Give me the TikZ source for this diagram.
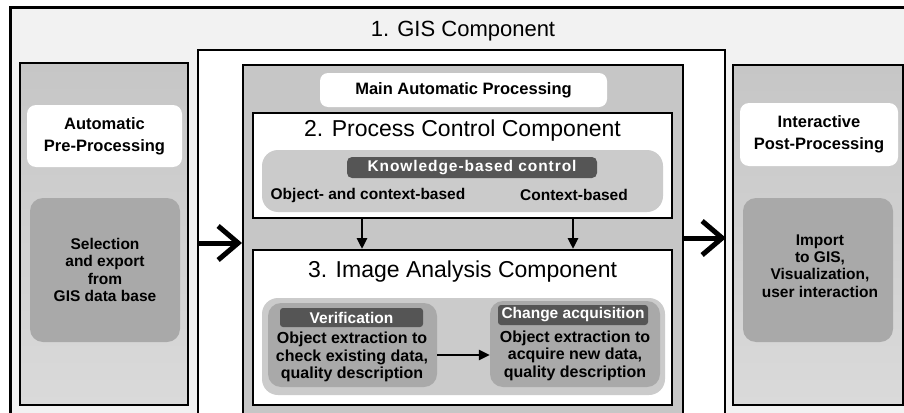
\documentclass[tikz,border=0pt]{standalone}
\usepackage{fontspec}
\setmainfont{Liberation Sans}
\usetikzlibrary{arrows.meta}
\definecolor{framegray}{HTML}{F2F2F2}
\definecolor{panelgray}{HTML}{C6C6C6}
\definecolor{panellow}{HTML}{DADADA}
\definecolor{boxgray}{HTML}{A9A9A9}
\definecolor{bandgray}{HTML}{CBCBCB}
\definecolor{taggray}{HTML}{555555}
\tikzset{
  frame/.style = {draw, line width=3pt, fill=framegray, rectangle},
  panel/.style = {draw, line width=2pt, rectangle, top color=panelgray, bottom color=panellow},
  compbox/.style = {draw, line width=2pt, fill=white, rectangle},
  whitelbl/.style = {fill=white, rounded corners=9pt, align=center, font=\fontsize{16.5}{22}\selectfont\bfseries},
  darkbox/.style = {fill=boxgray, rounded corners=13pt, align=center, font=\fontsize{15.5}{17.6}\selectfont\bfseries},
  band/.style = {fill=bandgray, rounded corners=16pt},
  tag/.style = {fill=taggray, rounded corners=3pt, text=white, font=\fontsize{15.5}{17}\selectfont\bfseries},
  title/.style = {font=\fontsize{23}{26}\selectfont},
  plain/.style = {font=\fontsize{15.5}{17}\selectfont\bfseries},
  bigarrow/.style = {line width=5pt, -{Straight Barb[length=20pt,width=34pt]}},
  arr/.style = {line width=2.8pt, -{Triangle[length=11pt,width=10pt]}}
}
\begin{document}
\begin{tikzpicture}[x=1pt, y=-1pt, inner sep=0pt]
  \useasboundingbox (0,0) rectangle (904,412);
  \clip (0,0) rectangle (904,412);
  % outer frame and GIS component
  \node[frame, minimum width=910pt, minimum height=417pt] (outer) at (465,216.5) {};
  \node[compbox, minimum width=527pt, minimum height=390pt] (gis) at (461.5,245) {};
  \node[title, font=\fontsize{22}{26}\selectfont] (gistitle) at (463,31) {1. GIS Component};
  % pre-processing
  \node[panel, minimum width=168pt, minimum height=342pt] (pre) at (104,234) {};
  \node[whitelbl, minimum width=155pt, minimum height=62pt] (pretitle) at (104.5,136) {Automatic\\Pre-Processing};
  \node[darkbox, minimum width=150pt, minimum height=144pt] (predo) at (105,270) {Selection\\and export\\from\\GIS data base};
  % post-processing
  \node[panel, minimum width=170pt, minimum height=340pt] (post) at (818,235) {};
  \node[whitelbl, minimum width=158pt, minimum height=63pt] (posttitle) at (819,134.5) {Interactive\\Post-Processing};
  \node[darkbox, minimum width=150pt, minimum height=144pt] (postdo) at (818,270) {};
  \node[align=center, font=\fontsize{15.5}{17.2}\selectfont\bfseries] (posttext) at (820,266) {Import\\to GIS,\\Visualization,\\user interaction};
  % main automatic processing
  \node[panel, top color=panelgray, bottom color=panelgray, minimum width=440pt, minimum height=375pt] (main) at (463,252.5) {};
  \node[whitelbl, rounded corners=8pt, minimum width=287pt, minimum height=34pt] (mainlbl) at (463.5,90) {Main Automatic Processing};
  % 2. process control
  \node[compbox, minimum width=419pt, minimum height=105pt] (pcc) at (462.5,165.5) {};
  \node[title] (pcctitle) at (462.5,131) {2. Process Control Component};
  \node[band, minimum width=401pt, minimum height=62pt] (kband) at (462.5,181) {};
  \node[tag, rounded corners=5pt, minimum width=250pt, minimum height=21pt,
        font=\fontsize{15.5}{17}\selectfont\bfseries\addfontfeature{LetterSpace=6}] (kbc) at (472,167.5) {Knowledge-based control};
  \node[plain] (ocb) at (368,195) {Object- and context-based};
  \node[plain] (cb) at (574,195) {Context-based};
  % 3. image analysis
  \node[compbox, minimum width=419pt, minimum height=155pt] (iac) at (462.5,327.5) {};
  \node[title] (iactitle) at (462.5,272) {3. Image Analysis Component};
  \node[band, minimum width=403pt, minimum height=97pt] (iband) at (463.5,346.5) {};
  \node[darkbox, minimum width=169pt, minimum height=84pt] (vbox) at (352.5,345) {};
  \node[tag, minimum width=143pt, minimum height=19pt] (vtag) at (351.5,317.5) {Verification};
  \node[align=center, font=\fontsize{16}{17.5}\selectfont\bfseries] (vtext) at (352,357) {Object extraction to\\check existing data,\\quality description};
  \node[darkbox, minimum width=170pt, minimum height=86pt] (cbox) at (575,344) {};
  \node[tag, minimum width=150pt, minimum height=20pt] (ctag) at (573,315) {Change acquisition};
  \node[align=center, font=\fontsize{16}{17.5}\selectfont\bfseries] (ctext) at (575,355.5) {Object extraction to\\acquire new data,\\quality description};
  % connectors
  \coordinate (la) at (0,243);
  \coordinate (ra) at (0,238);
  \coordinate (a1) at (362,0);
  \coordinate (a2) at (573,0);
  \coordinate (a3) at (0,355);
  \draw[bigarrow] (gis.west |- la) -- (main.west |- la);
  \draw[bigarrow] (main.east |- ra) -- (gis.east |- ra);
  \draw[arr] (pcc.south -| a1) -- (iac.north -| a1);
  \draw[arr] (pcc.south -| a2) -- (iac.north -| a2);
  \draw[arr] (vbox.east |- a3) -- (cbox.west |- a3);
\end{tikzpicture}
\end{document}
